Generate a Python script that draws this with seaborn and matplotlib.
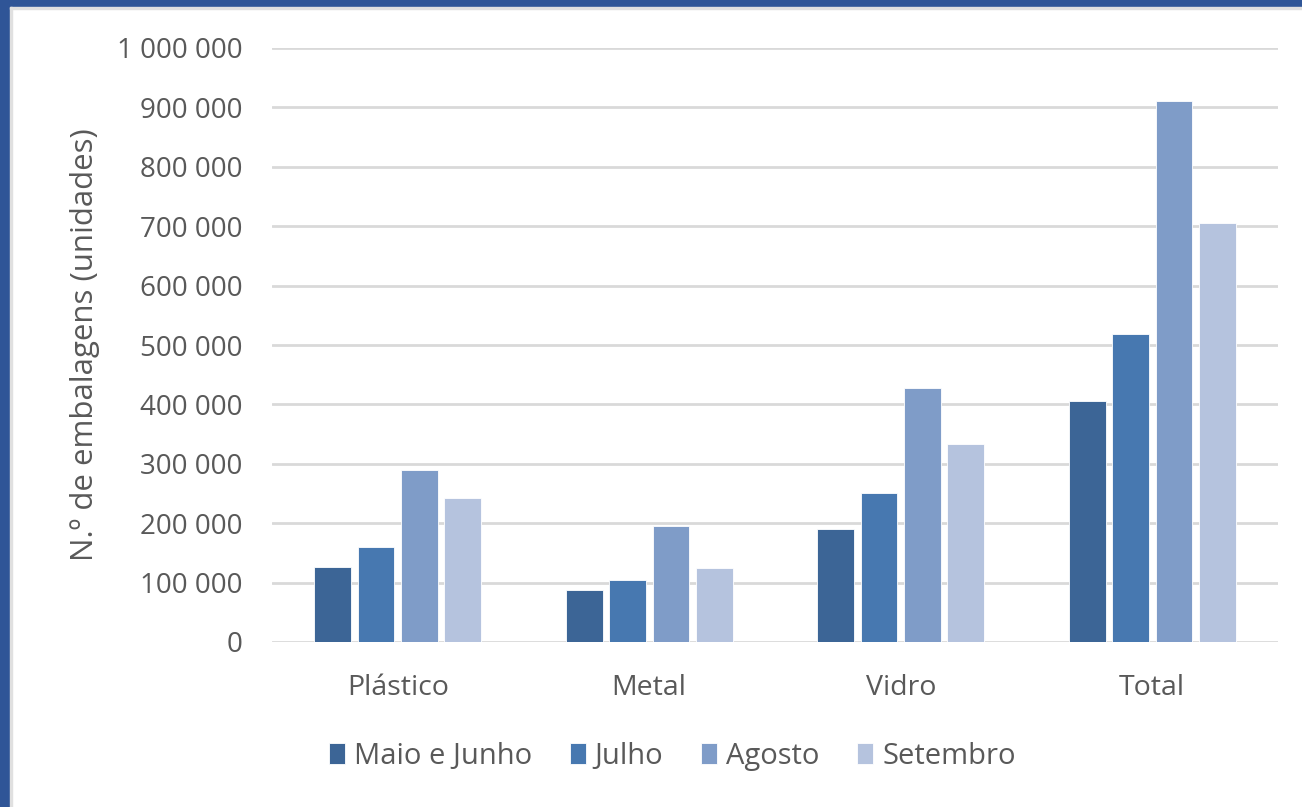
import numpy as np
import pandas as pd
import matplotlib
matplotlib.use('Agg')
import matplotlib.pyplot as plt
from matplotlib.patches import Rectangle
from matplotlib.ticker import FuncFormatter
import seaborn as sns

###############################################################################

categories = ['Plástico', 'Metal', 'Vidro', 'Total']
months = ['Maio e Junho', 'Julho', 'Agosto', 'Setembro']

maio_junho = [126000, 87500, 190000, 406000]
julho = [160000, 104000, 251000, 518000]
agosto = [290000, 195000, 428000, 911000]
setembro = [242000, 125000, 333000, 705000]

colours = ['#3c6596', '#4778b0', '#7f9cc8', '#b5c3de']

###############################################################################

df = pd.DataFrame({
    'cat': categories * 4,
    'mes': np.repeat(months, 4),
    'val': maio_junho + julho + agosto + setembro,
})

sns.set_style('white')
plt.rcParams['font.family'] = ['Open Sans', 'DejaVu Sans']

fig = plt.figure(figsize=(13.02, 8.07), dpi=100)
ax = fig.add_axes([272 / 1302, 1 - 642 / 807, 1006 / 1302, 594 / 807])

sns.barplot(data=df, x='cat', y='val', hue='mes', palette=colours,
            width=0.69, gap=0.15, ax=ax, zorder=3, saturation=1,
            edgecolor='white', linewidth=0.6)

ax.set_ylim(0, 1000000)
ax.set_yticks(np.arange(0, 1000001, 100000))
ax.yaxis.set_major_formatter(
    FuncFormatter(lambda v, p: '{:,.0f}'.format(v).replace(',', ' ')))
ax.grid(axis='y', color='#d9d9d9', linewidth=2, zorder=0)
ax.set_axisbelow(True)
for s in ax.spines.values():
    s.set_visible(False)

ax.tick_params(axis='y', labelsize=20, labelcolor='#595959', length=0,
               pad=21)
ax.tick_params(axis='x', labelsize=20.5, labelcolor='#595959', length=0,
               pad=23)
ax.set_xlabel('')
ax.set_ylabel('N.º de embalagens (unidades)', fontsize=22.5, color='#595959')
ax.yaxis.set_label_coords(-0.171, 0.5)

leg = ax.legend(loc='center', bbox_to_anchor=(0.398, -0.192), ncol=4,
                frameon=False, fontsize=21, handlelength=0.55,
                handleheight=0.7, handletextpad=0.3, columnspacing=1.3)
for t in leg.get_texts():
    t.set_color('#595959')

# frame of the original picture
fig.patches.append(Rectangle((0, 0), 10 / 1302, 1, transform=fig.transFigure,
                             color='#2f5597', zorder=0))
fig.patches.append(Rectangle((0, 1 - 7 / 807), 1, 7 / 807,
                             transform=fig.transFigure, color='#2f5597',
                             zorder=0))
fig.patches.append(Rectangle((10 / 1302, 0), 2 / 1302, 1 - 7 / 807,
                             transform=fig.transFigure, color='#e0e0e0',
                             zorder=0))
fig.patches.append(Rectangle((10 / 1302, 1 - 9 / 807), 1, 2 / 807,
                             transform=fig.transFigure, color='#e0e0e0',
                             zorder=0))

fig.savefig('out.png', dpi=100)
